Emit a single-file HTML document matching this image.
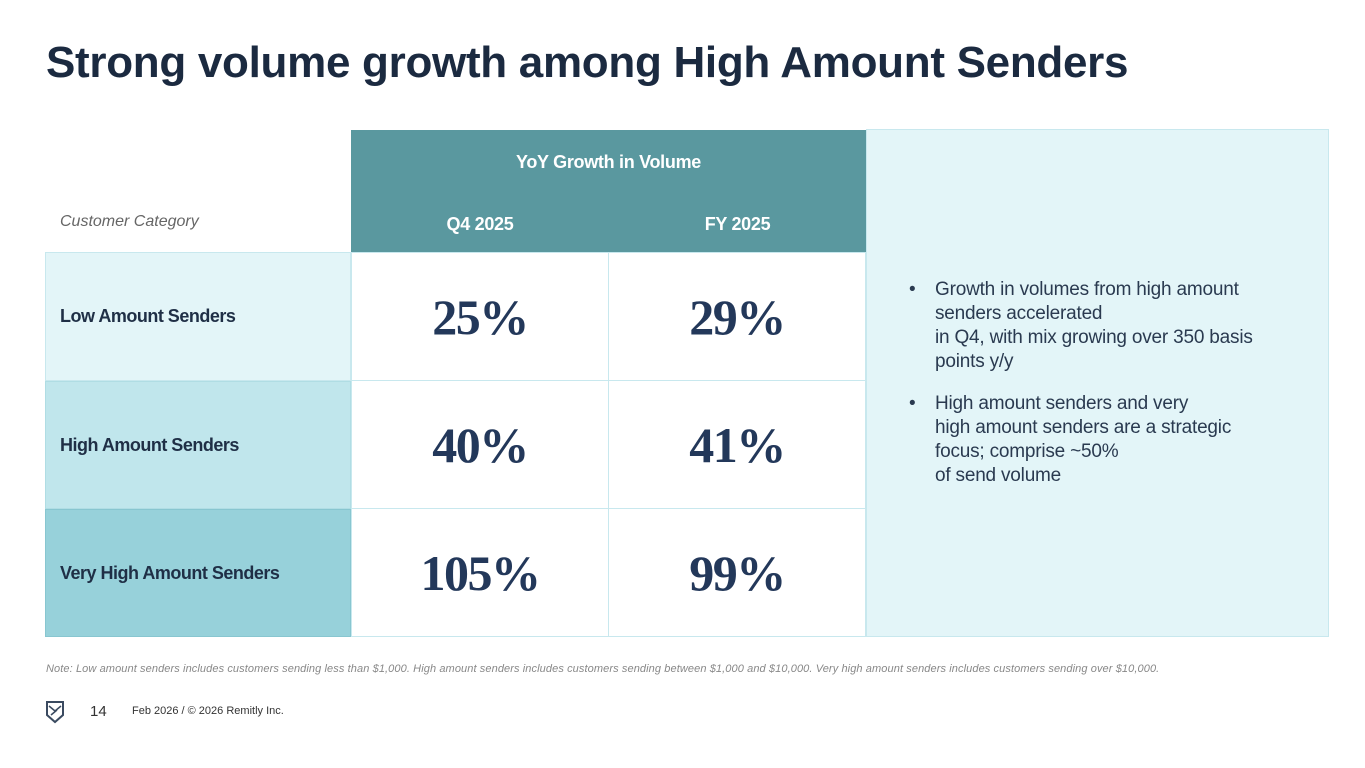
<!DOCTYPE html>
<html><head><meta charset="utf-8"><style>
body{margin:0;width:1365px;height:768px;background:#fff;position:relative;overflow:hidden;font-family:"Liberation Sans",sans-serif;color:#1c2b40}
.a{position:absolute;box-sizing:border-box}
.c{display:flex;align-items:center;justify-content:center}
.lab{font-weight:bold;font-size:18px;letter-spacing:-0.5px;padding-left:14px;display:flex;align-items:center;color:#1f2f46}
.val{font-family:"Liberation Serif",serif;font-weight:bold;font-size:50px;color:#23385a;background:#fff;border:1px solid #c8e8ee;letter-spacing:-1.5px}
.hd{color:#fff;font-weight:bold;font-size:18px;letter-spacing:-0.3px}
ul{margin:0;padding:0;list-style:none;width:355px}
li{position:relative;padding-left:26px;font-size:19px;line-height:24px;color:#2a3a50;margin-bottom:18px;letter-spacing:-0.2px}
li:before{content:"•";position:absolute;left:0}
</style></head><body>
<div class="a" style="left:46px;top:38px;font-size:44px;font-weight:bold;letter-spacing:-0.3px;color:#1b2a40">Strong volume growth among High Amount Senders</div>

<div class="a" style="left:351px;top:130px;width:515px;height:122px;background:#5a989f"></div>
<div class="a c hd" style="left:351px;top:148px;width:515px;height:28px">YoY Growth in Volume</div>
<div class="a c hd" style="left:351px;top:210px;width:258px;height:28px">Q4 2025</div>
<div class="a c hd" style="left:609px;top:210px;width:257px;height:28px">FY 2025</div>
<div class="a" style="left:60px;top:213px;font-size:16px;font-style:italic;color:#666">Customer Category</div>

<div class="a lab" style="left:45px;top:252px;width:306px;height:129px;background:#e3f5f8;border:1px solid #c8e8ee">Low Amount Senders</div>
<div class="a lab" style="left:45px;top:381px;width:306px;height:128px;background:#c0e6ec;border:1px solid #b0dde4">High Amount Senders</div>
<div class="a lab" style="left:45px;top:509px;width:306px;height:128px;background:#97d1da;border:1px solid #88c6d0">Very High Amount Senders</div>

<div class="a c val" style="left:351px;top:252px;width:258px;height:129px">25%</div>
<div class="a c val" style="left:608px;top:252px;width:258px;height:129px">29%</div>
<div class="a c val" style="left:351px;top:380px;width:258px;height:129px">40%</div>
<div class="a c val" style="left:608px;top:380px;width:258px;height:129px">41%</div>
<div class="a c val" style="left:351px;top:508px;width:258px;height:129px">105%</div>
<div class="a c val" style="left:608px;top:508px;width:258px;height:129px">99%</div>

<div class="a" style="left:866px;top:129px;width:463px;height:508px;background:#e3f5f8;border:1px solid #c8e8ee;padding:148px 0 0 42px">
<ul>
<li>Growth in volumes from high amount senders accelerated<br>in Q4, with mix growing over 350 basis points y/y</li>
<li>High amount senders and very<br>high amount senders are a strategic focus; comprise ~50%<br>of send volume</li>
</ul></div>

<div class="a" style="left:46px;top:663px;font-size:11px;font-style:italic;color:#888;letter-spacing:0.1px">Note: Low amount senders includes customers sending less than $1,000. High amount senders includes customers sending between $1,000 and $10,000. Very high amount senders includes customers sending over $10,000.</div>
<svg class="a" style="left:45px;top:700px" width="20" height="24" viewBox="0 0 20 24"><path d="M2 2H18V15L10 22L2 15Z" fill="none" stroke="#3a4a60" stroke-width="2"/><path d="M4 6L10 11L16 6M6 15L12 10" fill="none" stroke="#3a4a60" stroke-width="1.5"/></svg>
<div class="a" style="left:90px;top:703px;font-size:15px;color:#333">14</div>
<div class="a" style="left:132px;top:705px;font-size:11px;color:#333">Feb 2026 / © 2026 Remitly Inc.</div>
</body></html>
